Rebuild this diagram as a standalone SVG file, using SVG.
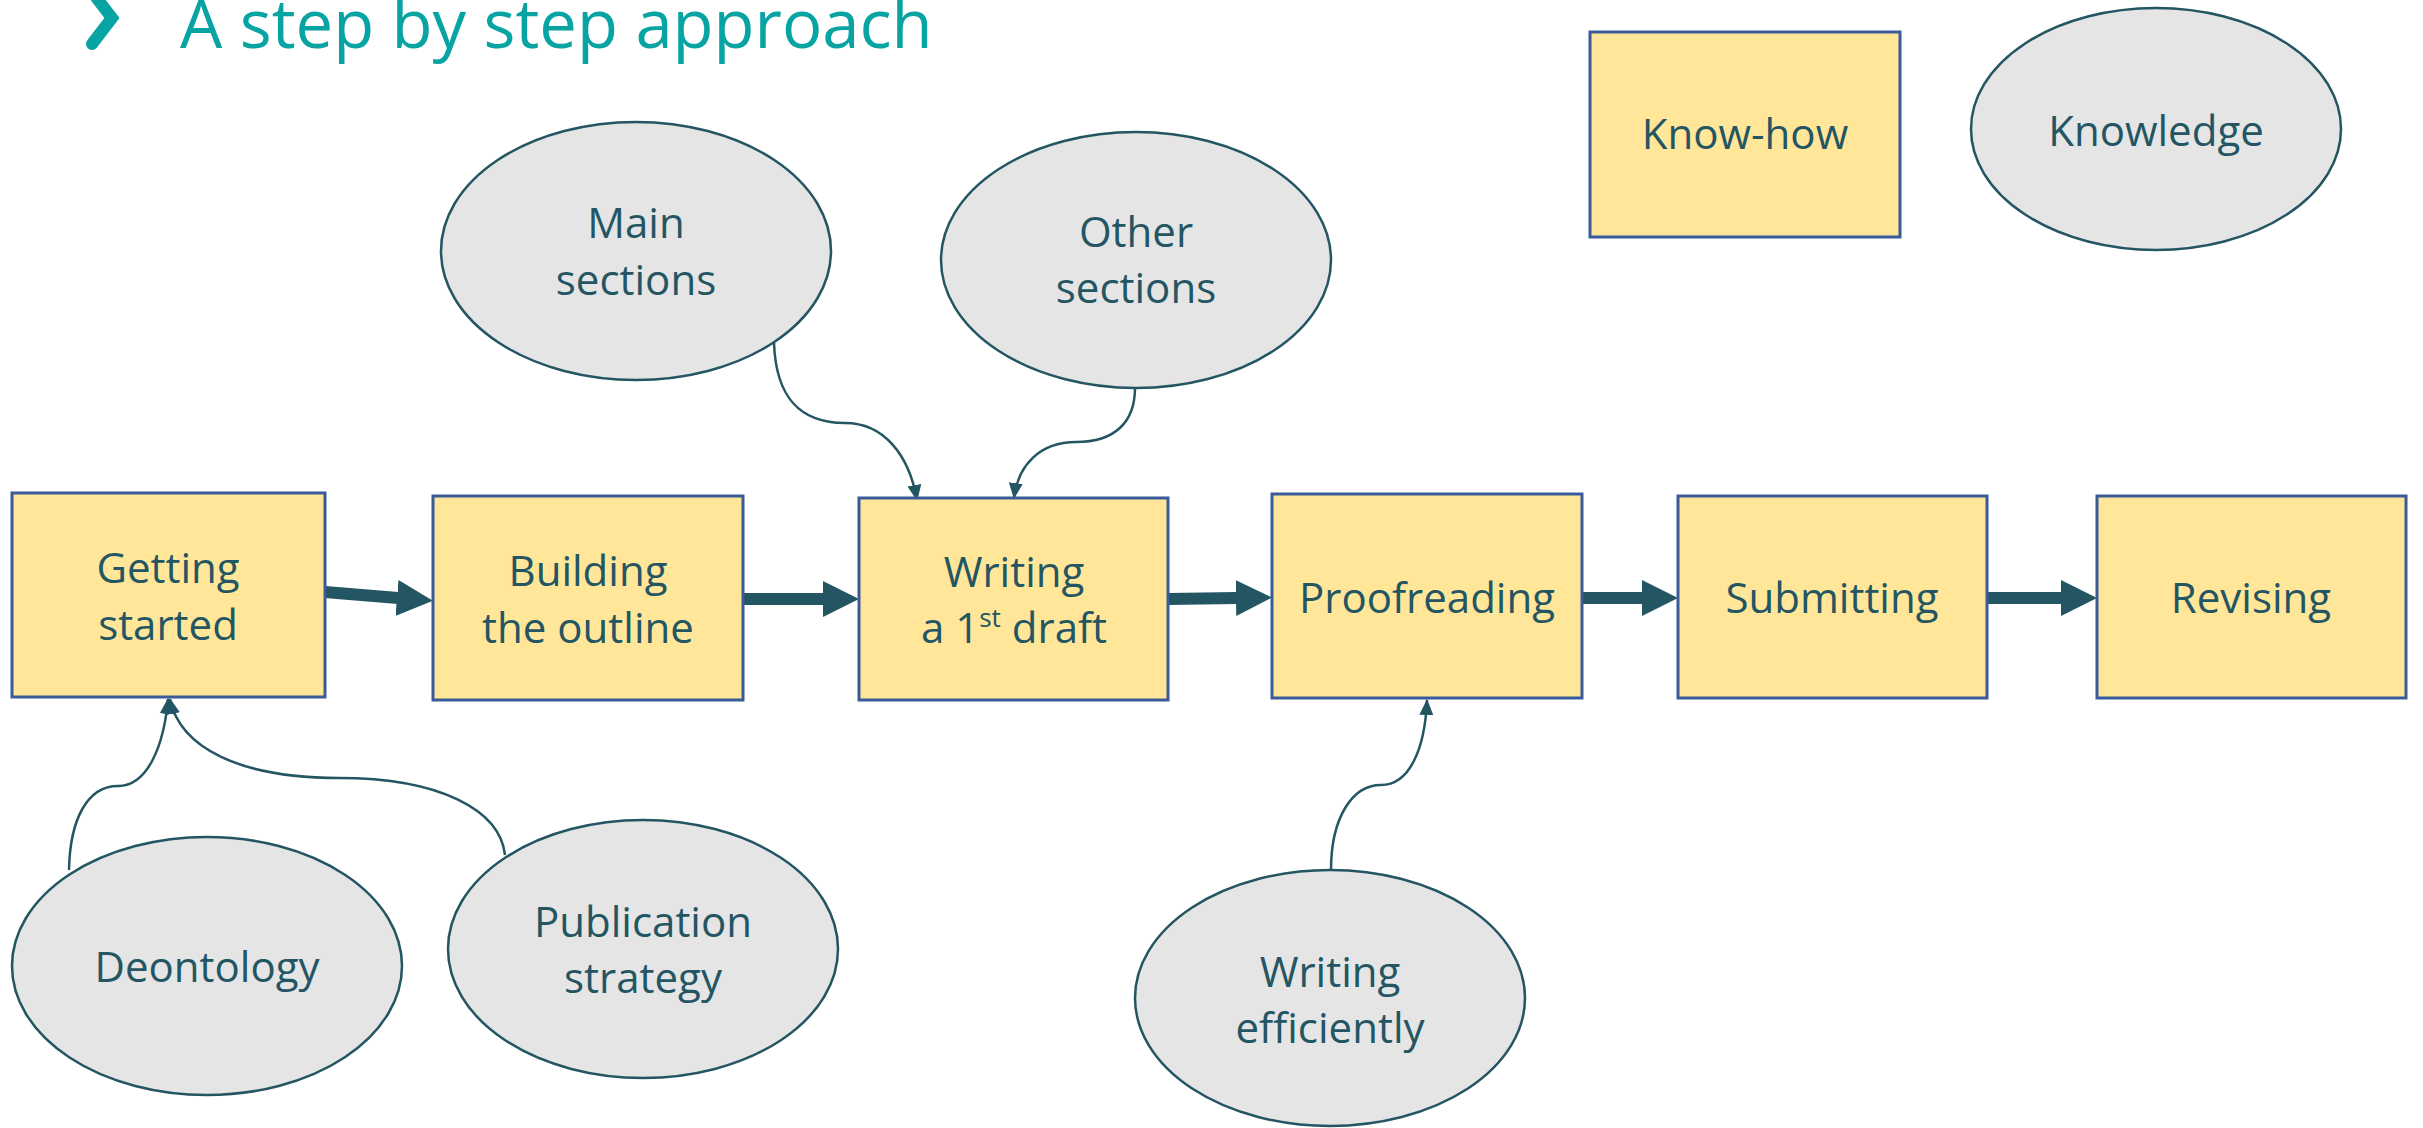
<svg xmlns="http://www.w3.org/2000/svg" width="2423" height="1128" viewBox="0 0 2423 1128">
<style>
  .box { fill: #FFE699; stroke: #3A5B9A; stroke-width: 3; }
  .ell { fill: #E5E5E5; stroke: #245563; stroke-width: 2.5; }
  .lbl { font-family: "Open Sans", "Noto Sans", sans-serif; font-size: 42px; fill: #245563; text-anchor: middle; }
  .big { stroke: #245563; stroke-width: 12; fill: none; marker-end: url(#bigHead); }
  .thin { stroke: #245563; stroke-width: 2.5; fill: none; marker-end: url(#smallHead); }
</style>
<defs>
  <marker id="bigHead" markerUnits="userSpaceOnUse" markerWidth="36" markerHeight="36" viewBox="0 0 36 36" refX="1" refY="18" orient="auto">
    <path d="M0,0 L36,18 L0,36 z" fill="#245563"/>
  </marker>
  <marker id="smallHead" markerUnits="userSpaceOnUse" markerWidth="16" markerHeight="16" viewBox="0 0 16 16" refX="15" refY="8" orient="auto">
    <path d="M0,1 L16,8 L0,15 z" fill="#245563"/>
  </marker>
</defs>
<rect width="2423" height="1128" fill="#FFFFFF"/>

<g id="title">
  <polyline points="92,-8 112,18 92,44" fill="none" stroke="#08A3A3" stroke-width="12" stroke-linecap="round" stroke-linejoin="miter"/>
  <text x="180" y="48" font-family="Open Sans, Noto Sans, sans-serif" font-size="67" fill="#08A3A3">A step by step approach</text>
</g>

<g id="connectors">
  <line class="big" x1="325" y1="592" x2="398" y2="598"/>
  <line class="big" x1="743" y1="599" x2="824" y2="599"/>
  <line class="big" x1="1168" y1="599" x2="1237" y2="598"/>
  <line class="big" x1="1582" y1="598" x2="1643" y2="598"/>
  <line class="big" x1="1987" y1="598" x2="2062" y2="598"/>
  <path class="thin" d="M774,343 C776,398 800,423 845,423 C884,423 909,455 917,500"/>
  <path class="thin" d="M1135,388 C1135,422 1115,442 1076,442 C1040,442 1018,465 1014,498"/>
  <path class="thin" d="M69,870 C70,818 88,786 118,786 C148,786 164,745 168,699"/>
  <path class="thin" d="M505,855 C500,810 440,778 339,778 C240,778 180,748 170,699"/>
  <path class="thin" d="M1331,870 C1331,818 1352,785 1381,785 C1410,785 1425,748 1427,700"/>
</g>

<g id="getting-started">
  <rect class="box" x="12" y="493" width="313" height="204"/>
  <text class="lbl" x="168" y="583">Getting</text>
  <text class="lbl" x="168" y="640">started</text>
</g>
<g id="building-outline">
  <rect class="box" x="433" y="496" width="310" height="204"/>
  <text class="lbl" x="588" y="586">Building</text>
  <text class="lbl" x="588" y="643">the outline</text>
</g>
<g id="writing-draft">
  <rect class="box" x="859" y="498" width="309" height="202"/>
  <text class="lbl" x="1014" y="587">Writing</text>
  <text class="lbl" x="1014" y="643">a 1<tspan font-size="26" dy="-16">st</tspan><tspan dy="16"> draft</tspan></text>
</g>
<g id="proofreading">
  <rect class="box" x="1272" y="494" width="310" height="204"/>
  <text class="lbl" x="1427" y="613">Proofreading</text>
</g>
<g id="submitting">
  <rect class="box" x="1678" y="496" width="309" height="202"/>
  <text class="lbl" x="1832" y="613">Submitting</text>
</g>
<g id="revising">
  <rect class="box" x="2097" y="496" width="309" height="202"/>
  <text class="lbl" x="2251" y="613">Revising</text>
</g>
<g id="know-how">
  <rect class="box" x="1590" y="32" width="310" height="205"/>
  <text class="lbl" x="1745" y="149">Know-how</text>
</g>
<g id="knowledge">
  <ellipse class="ell" cx="2156" cy="129" rx="185" ry="121"/>
  <text class="lbl" x="2156" y="146">Knowledge</text>
</g>
<g id="main-sections">
  <ellipse class="ell" cx="636" cy="251" rx="195" ry="129"/>
  <text class="lbl" x="636" y="238">Main</text>
  <text class="lbl" x="636" y="295">sections</text>
</g>
<g id="other-sections">
  <ellipse class="ell" cx="1136" cy="260" rx="195" ry="128"/>
  <text class="lbl" x="1136" y="247">Other</text>
  <text class="lbl" x="1136" y="303">sections</text>
</g>
<g id="deontology">
  <ellipse class="ell" cx="207" cy="966" rx="195" ry="129"/>
  <text class="lbl" x="207" y="982">Deontology</text>
</g>
<g id="publication-strategy">
  <ellipse class="ell" cx="643" cy="949" rx="195" ry="129"/>
  <text class="lbl" x="643" y="937">Publication</text>
  <text class="lbl" x="643" y="993">strategy</text>
</g>
<g id="writing-efficiently">
  <ellipse class="ell" cx="1330" cy="998" rx="195" ry="128"/>
  <text class="lbl" x="1330" y="987">Writing</text>
  <text class="lbl" x="1330" y="1043">efficiently</text>
</g>
</svg>
